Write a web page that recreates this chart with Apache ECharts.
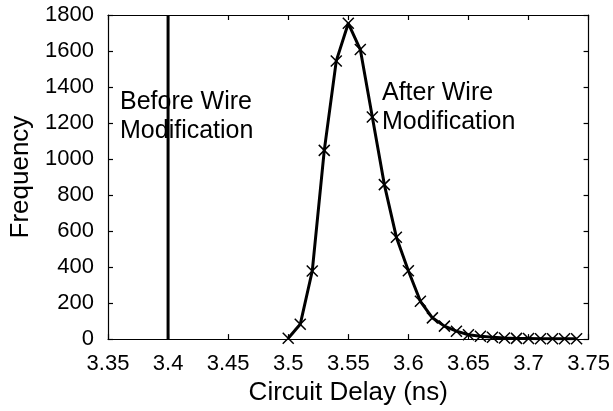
<!DOCTYPE html>
<html>
<head>
<meta charset="utf-8">
<script src="https://cdn.jsdelivr.net/npm/echarts@6/dist/echarts.min.js"></script>
<style>
  html, body { margin: 0; padding: 0; background: #fff; }
  #chart { width: 613px; height: 411px; }
</style>
</head>
<body>
<div id="chart"></div>
<script>
const delays = [3.50, 3.51, 3.52, 3.53, 3.54, 3.55, 3.56, 3.57, 3.58, 3.59,
  3.60, 3.61, 3.62, 3.63, 3.64, 3.65, 3.66, 3.67, 3.68, 3.69,
  3.70, 3.71, 3.72, 3.73, 3.74];
const freqAfter = [5, 82, 378, 1048, 1545, 1754, 1608, 1234, 858, 566,
  380, 210, 118, 72, 44, 24, 16, 10, 6, 4,
  3, 2, 2, 2, 2];
const beforeDelay = [3.4, 3.4];
const beforeFreq = [0, 1800];

const FONT = "Liberation Sans";
const crossPath = "path://M0,0L10,10M10,0L0,10";

const chart = echarts.init(document.getElementById("chart"));

// box frame: every side gets a line and small inward ticks
function frameAxis() {
  return {
    axisLine: { show: true, onZero: false, lineStyle: { color: "#000", width: 1.2 } },
    axisTick: { show: true, inside: true, length: 5, lineStyle: { color: "#000", width: 1.2 } },
    splitLine: { show: false }
  };
}

chart.setOption({
  animation: false,
  grid: { left: 108, right: 24, top: 15, bottom: 71 },
  xAxis: [
    Object.assign(frameAxis(), {
      type: "value", min: 3.35, max: 3.75, interval: 0.05,
      axisLabel: {
        color: "#000", fontFamily: FONT, fontSize: 22, margin: 14,
        formatter: v => String(+v.toFixed(2))
      },
      name: "Circuit Delay (ns)", nameLocation: "middle", nameGap: 36,
      nameTextStyle: { color: "#000", fontFamily: FONT, fontSize: 26 }
    }),
    Object.assign(frameAxis(), {
      type: "value", min: 3.35, max: 3.75, interval: 0.05, position: "top",
      axisLabel: { show: false }
    })
  ],
  yAxis: [
    Object.assign(frameAxis(), {
      type: "value", min: 0, max: 1800, interval: 200,
      axisLabel: { color: "#000", fontFamily: FONT, fontSize: 22, margin: 14, formatter: v => String(v) },
      name: "Frequency", nameLocation: "middle", nameGap: 74,
      nameTextStyle: { color: "#000", fontFamily: FONT, fontSize: 26 }
    }),
    Object.assign(frameAxis(), {
      type: "value", min: 0, max: 1800, interval: 200, position: "right",
      axisLabel: { show: false }
    })
  ],
  graphic: [
    {
      type: "text", left: 120, top: 88,
      style: { text: "Before Wire\nModification", font: "25px " + FONT, fill: "#000", lineHeight: 29 }
    },
    {
      type: "text", left: 382, top: 79,
      style: { text: "After Wire\nModification", font: "25px " + FONT, fill: "#000", lineHeight: 29 }
    }
  ],
  series: [
    {
      type: "line",
      data: beforeDelay.map((x, i) => [x, beforeFreq[i]]),
      symbol: "none",
      lineStyle: { color: "#000", width: 3 }
    },
    {
      type: "line",
      data: delays.map((x, i) => [x, freqAfter[i]]),
      symbol: crossPath,
      symbolSize: 11,
      itemStyle: { color: "transparent", borderColor: "#000", borderWidth: 1.5 },
      lineStyle: { color: "#000", width: 3 }
    }
  ]
});
</script>
</body>
</html>
